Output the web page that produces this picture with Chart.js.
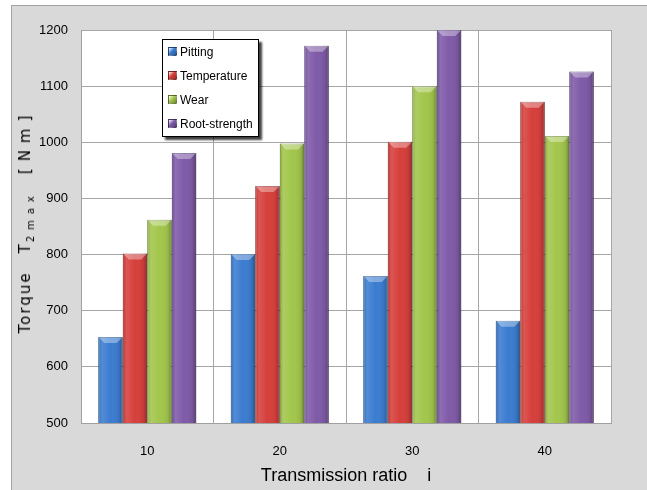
<!DOCTYPE html>
<html>
<head>
<meta charset="utf-8">
<script src="https://cdn.jsdelivr.net/npm/chart.js@4.4.1/dist/chart.umd.min.js"></script>
<style>
  body { margin: 0; background: #fff; }
  #wrap { position: relative; width: 647px; height: 490px; overflow: hidden; }
  #frame { position: absolute; left: 11px; top: 5px; width: 640px; height: 490px; background: #d9d9d9; border-left: 1px solid #a3a3a3; border-top: 1px solid #a3a3a3; }
  #chart { position: absolute; left: 0; top: 0; }
  #legend { position: absolute; left: 162px; top: 39px; width: 95px; height: 96px; background: #fff; border: 1px solid #000; box-shadow: 3px 3px 2px rgba(0,0,0,0.75); font-family: 'Liberation Sans', Arial, sans-serif; font-size: 12px; color: #000; }
  #legend div { position: absolute; left: 5px; height: 16px; line-height: 16px; white-space: nowrap; }
  #legend span.box { display: inline-block; width: 7px; height: 7px; margin-right: 3px; vertical-align: 0px; border: 1px solid rgba(0,0,0,0.35); }
  #ytitle { position: absolute; left: 25px; top: 221px; transform: translate(-50%, -50%) rotate(-90deg); white-space: nowrap; font-family: 'DejaVu Sans', Verdana, sans-serif; font-size: 15px; color: #000; }
  #ytitle span { display: inline-block; }
  #ytitle .t1 { letter-spacing: 2px; margin-right: 18px; }
  #ytitle .sub { font-size: 10px; letter-spacing: 6px; position: relative; top: 4px; margin-right: 16px; margin-left: 2px; }
  #ytitle .t3 { letter-spacing: 7px; }
</style>
</head>
<body>
<div id="wrap">
  <div id="frame"></div>
  <canvas id="chart" width="647" height="490"></canvas>
  <div id="legend"></div>
  <div id="ytitle"><span class="t1">Torque</span><span>T</span><span class="sub">2max</span><span class="t3">[Nm]</span></div>
</div>
<script>
// data
const categories = ['10', '20', '30', '40'];
const pitting = [653, 801, 762, 682];
const temperature = [802, 922, 1001, 1072];
const wear = [862, 998, 1100, 1011];
const rootStrength = [981, 1172, 1200, 1126];
const yTicks = [500, 600, 700, 800, 900, 1000, 1100, 1200];

const seriesNames = ['Pitting', 'Temperature', 'Wear', 'Root-strength'];
const fills = ['#3b7cd0', '#d63f3b', '#a2c64b', '#7f5aa8'];
const edges = ['#285a98', '#992a27', '#6e8a2e', '#553b78'];

const tickFont = { family: "'Liberation Sans', Arial, sans-serif", size: 13 };

// white plot area
const plotBg = {
  id: 'plotBg',
  beforeDraw(chart) {
    const a = chart.chartArea, c = chart.ctx;
    c.save();
    c.fillStyle = '#fff';
    c.fillRect(a.left, a.top, a.right - a.left, a.bottom - a.top);
    c.restore();
  }
};

// excel style bevel shading on the bars
const bevel = {
  id: 'bevel',
  afterDatasetsDraw(chart) {
    const c = chart.ctx, a = chart.chartArea;
    c.save();
    c.beginPath();
    c.rect(a.left, a.top, a.right - a.left, a.bottom - a.top);
    c.clip();
    chart.data.datasets.forEach((ds, i) => {
      chart.getDatasetMeta(i).data.forEach(bar => {
        const w = bar.width, x0 = bar.x - w / 2, x1 = bar.x + w / 2;
        const top = Math.max(bar.y, a.top), bot = Math.min(bar.base, a.bottom);
        const g = c.createLinearGradient(x0, 0, x1, 0);
        g.addColorStop(0, 'rgba(0,0,0,0.12)');
        g.addColorStop(0.15, 'rgba(255,255,255,0.12)');
        g.addColorStop(0.5, 'rgba(255,255,255,0)');
        g.addColorStop(0.85, 'rgba(0,0,0,0.08)');
        g.addColorStop(1, 'rgba(0,0,0,0.32)');
        c.fillStyle = g;
        c.fillRect(x0, top, w, bot - top);
        // top bevel
        const b = Math.min(6, bot - top);
        c.beginPath();
        c.moveTo(x0, top);
        c.lineTo(x1, top);
        c.lineTo(x1 - b, top + b);
        c.lineTo(x0 + b, top + b);
        c.closePath();
        c.fillStyle = 'rgba(255,255,255,0.35)';
        c.fill();
      });
    });
    c.restore();
  }
};

const chart = new Chart(document.getElementById('chart'), {
  type: 'bar',
  data: {
    labels: categories,
    datasets: [pitting, temperature, wear, rootStrength].map((vals, i) => ({
      label: seriesNames[i],
      data: vals,
      backgroundColor: fills[i],
      borderColor: edges[i],
      borderWidth: 1,
      categoryPercentage: 0.74,
      barPercentage: 1.0
    }))
  },
  options: {
    responsive: false,
    animation: false,
    layout: { padding: { top: 30, right: 36, left: 0, bottom: 0 } },
    plugins: { legend: { display: false }, tooltip: { enabled: false } },
    scales: {
      x: {
        grid: { color: '#a6a6a6', drawTicks: false, offset: true },
        border: { color: '#a0a0a0' },
        ticks: { color: '#000', font: tickFont, padding: 21 },
        title: {
          display: true,
          text: 'Transmission ratio    i',
          color: '#000',
          font: { family: tickFont.family, size: 18 },
          padding: { top: 0, bottom: 3 }
        },
        afterFit(s) { s.height = 67; }
      },
      y: {
        min: yTicks[0],
        max: yTicks[yTicks.length - 1],
        afterBuildTicks(s) { s.ticks = yTicks.map(v => ({ value: v })); },
        grid: { color: '#a6a6a6', drawTicks: false },
        border: { color: '#a0a0a0' },
        ticks: { color: '#000', font: tickFont, padding: 13, callback: v => String(v) },
        afterFit(s) { s.width = 81; }
      }
    }
  },
  plugins: [plotBg, bevel]
});

// legend inside the plot, built from the datasets
const leg = document.getElementById('legend');
chart.data.datasets.forEach((ds, i) => {
  const row = document.createElement('div');
  row.style.top = (4 + i * 24) + 'px';
  const box = document.createElement('span');
  box.className = 'box';
  box.style.background = 'linear-gradient(135deg, #fff 0%, ' + ds.backgroundColor + ' 45%, ' + ds.borderColor + ' 100%)';
  row.appendChild(box);
  row.appendChild(document.createTextNode(ds.label));
  leg.appendChild(row);
});
</script>
</body>
</html>
